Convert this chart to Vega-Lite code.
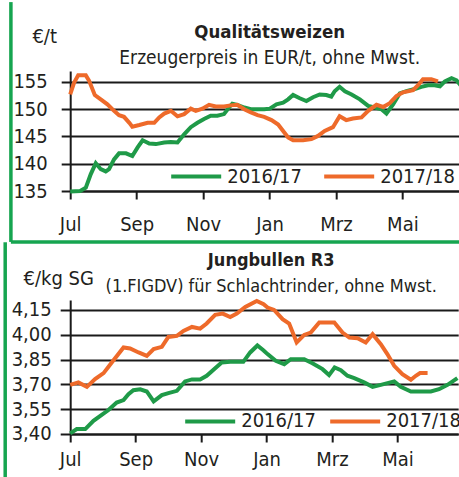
{
  "$schema": "https://vega.github.io/schema/vega-lite/v6.json",
  "padding": {"left": 3.2, "top": 0, "right": 0, "bottom": 0},
  "spacing": -4,
  "resolve": {"legend": {"color": "independent"}, "scale": {"color": "independent"}},
  "datasets": {
    "weizen": [
      {"Saison": "2016/17", "Monat": 0.0, "Preis": 134.9},
      {"Saison": "2016/17", "Monat": 0.3, "Preis": 135.0},
      {"Saison": "2016/17", "Monat": 0.47, "Preis": 135.6},
      {"Saison": "2016/17", "Monat": 0.62, "Preis": 138.1},
      {"Saison": "2016/17", "Monat": 0.77, "Preis": 140.1},
      {"Saison": "2016/17", "Monat": 0.92, "Preis": 139.0},
      {"Saison": "2016/17", "Monat": 1.07, "Preis": 138.6},
      {"Saison": "2016/17", "Monat": 1.17, "Preis": 139.0},
      {"Saison": "2016/17", "Monat": 1.32, "Preis": 140.8},
      {"Saison": "2016/17", "Monat": 1.47, "Preis": 141.9},
      {"Saison": "2016/17", "Monat": 1.68, "Preis": 141.9},
      {"Saison": "2016/17", "Monat": 1.87, "Preis": 141.4},
      {"Saison": "2016/17", "Monat": 2.03, "Preis": 143.0},
      {"Saison": "2016/17", "Monat": 2.18, "Preis": 144.3},
      {"Saison": "2016/17", "Monat": 2.38, "Preis": 143.7},
      {"Saison": "2016/17", "Monat": 2.58, "Preis": 143.6},
      {"Saison": "2016/17", "Monat": 2.83, "Preis": 143.9},
      {"Saison": "2016/17", "Monat": 3.03, "Preis": 144.0},
      {"Saison": "2016/17", "Monat": 3.23, "Preis": 143.9},
      {"Saison": "2016/17", "Monat": 3.43, "Preis": 145.4},
      {"Saison": "2016/17", "Monat": 3.63, "Preis": 146.7},
      {"Saison": "2016/17", "Monat": 3.83, "Preis": 147.5},
      {"Saison": "2016/17", "Monat": 4.03, "Preis": 148.2},
      {"Saison": "2016/17", "Monat": 4.23, "Preis": 148.8},
      {"Saison": "2016/17", "Monat": 4.43, "Preis": 148.8},
      {"Saison": "2016/17", "Monat": 4.63, "Preis": 149.1},
      {"Saison": "2016/17", "Monat": 4.78, "Preis": 150.3},
      {"Saison": "2016/17", "Monat": 4.88, "Preis": 151.0},
      {"Saison": "2016/17", "Monat": 5.03, "Preis": 150.8},
      {"Saison": "2016/17", "Monat": 5.24, "Preis": 150.3},
      {"Saison": "2016/17", "Monat": 5.44, "Preis": 150.0},
      {"Saison": "2016/17", "Monat": 5.84, "Preis": 150.0},
      {"Saison": "2016/17", "Monat": 6.01, "Preis": 150.1},
      {"Saison": "2016/17", "Monat": 6.21, "Preis": 150.9},
      {"Saison": "2016/17", "Monat": 6.41, "Preis": 151.2},
      {"Saison": "2016/17", "Monat": 6.56, "Preis": 151.8},
      {"Saison": "2016/17", "Monat": 6.71, "Preis": 152.6},
      {"Saison": "2016/17", "Monat": 6.91, "Preis": 152.0},
      {"Saison": "2016/17", "Monat": 7.11, "Preis": 151.5},
      {"Saison": "2016/17", "Monat": 7.31, "Preis": 152.2},
      {"Saison": "2016/17", "Monat": 7.51, "Preis": 152.7},
      {"Saison": "2016/17", "Monat": 7.71, "Preis": 152.6},
      {"Saison": "2016/17", "Monat": 7.86, "Preis": 152.3},
      {"Saison": "2016/17", "Monat": 7.96, "Preis": 153.3},
      {"Saison": "2016/17", "Monat": 8.11, "Preis": 154.1},
      {"Saison": "2016/17", "Monat": 8.27, "Preis": 153.3},
      {"Saison": "2016/17", "Monat": 8.47, "Preis": 152.7},
      {"Saison": "2016/17", "Monat": 8.72, "Preis": 151.8},
      {"Saison": "2016/17", "Monat": 8.97, "Preis": 150.6},
      {"Saison": "2016/17", "Monat": 9.17, "Preis": 150.3},
      {"Saison": "2016/17", "Monat": 9.37, "Preis": 150.0},
      {"Saison": "2016/17", "Monat": 9.52, "Preis": 149.2},
      {"Saison": "2016/17", "Monat": 9.72, "Preis": 150.9},
      {"Saison": "2016/17", "Monat": 9.92, "Preis": 152.9},
      {"Saison": "2016/17", "Monat": 10.12, "Preis": 153.3},
      {"Saison": "2016/17", "Monat": 10.37, "Preis": 153.7},
      {"Saison": "2016/17", "Monat": 10.57, "Preis": 154.1},
      {"Saison": "2016/17", "Monat": 10.77, "Preis": 154.4},
      {"Saison": "2016/17", "Monat": 10.97, "Preis": 154.4},
      {"Saison": "2016/17", "Monat": 11.13, "Preis": 154.2},
      {"Saison": "2016/17", "Monat": 11.28, "Preis": 155.1},
      {"Saison": "2016/17", "Monat": 11.48, "Preis": 155.7},
      {"Saison": "2016/17", "Monat": 11.63, "Preis": 155.3},
      {"Saison": "2016/17", "Monat": 11.8, "Preis": 154.0},
      {"Saison": "2017/18", "Monat": 0.0, "Preis": 152.7},
      {"Saison": "2017/18", "Monat": 0.12, "Preis": 154.9},
      {"Saison": "2017/18", "Monat": 0.24, "Preis": 156.2},
      {"Saison": "2017/18", "Monat": 0.47, "Preis": 156.2},
      {"Saison": "2017/18", "Monat": 0.57, "Preis": 155.2},
      {"Saison": "2017/18", "Monat": 0.74, "Preis": 152.6},
      {"Saison": "2017/18", "Monat": 0.92, "Preis": 151.8},
      {"Saison": "2017/18", "Monat": 1.12, "Preis": 150.9},
      {"Saison": "2017/18", "Monat": 1.32, "Preis": 149.7},
      {"Saison": "2017/18", "Monat": 1.47, "Preis": 148.9},
      {"Saison": "2017/18", "Monat": 1.62, "Preis": 148.6},
      {"Saison": "2017/18", "Monat": 1.78, "Preis": 147.5},
      {"Saison": "2017/18", "Monat": 1.87, "Preis": 146.8},
      {"Saison": "2017/18", "Monat": 2.08, "Preis": 147.1},
      {"Saison": "2017/18", "Monat": 2.33, "Preis": 147.5},
      {"Saison": "2017/18", "Monat": 2.53, "Preis": 147.5},
      {"Saison": "2017/18", "Monat": 2.68, "Preis": 148.5},
      {"Saison": "2017/18", "Monat": 2.83, "Preis": 149.2},
      {"Saison": "2017/18", "Monat": 3.03, "Preis": 149.7},
      {"Saison": "2017/18", "Monat": 3.23, "Preis": 148.7},
      {"Saison": "2017/18", "Monat": 3.43, "Preis": 149.1},
      {"Saison": "2017/18", "Monat": 3.63, "Preis": 150.1},
      {"Saison": "2017/18", "Monat": 3.78, "Preis": 149.7},
      {"Saison": "2017/18", "Monat": 3.98, "Preis": 150.1},
      {"Saison": "2017/18", "Monat": 4.18, "Preis": 150.8},
      {"Saison": "2017/18", "Monat": 4.38, "Preis": 150.5},
      {"Saison": "2017/18", "Monat": 4.63, "Preis": 150.5},
      {"Saison": "2017/18", "Monat": 4.83, "Preis": 150.7},
      {"Saison": "2017/18", "Monat": 5.03, "Preis": 150.8},
      {"Saison": "2017/18", "Monat": 5.24, "Preis": 150.0},
      {"Saison": "2017/18", "Monat": 5.44, "Preis": 149.4},
      {"Saison": "2017/18", "Monat": 5.64, "Preis": 148.9},
      {"Saison": "2017/18", "Monat": 5.84, "Preis": 148.6},
      {"Saison": "2017/18", "Monat": 6.06, "Preis": 148.0},
      {"Saison": "2017/18", "Monat": 6.26, "Preis": 147.2},
      {"Saison": "2017/18", "Monat": 6.41, "Preis": 146.0},
      {"Saison": "2017/18", "Monat": 6.56, "Preis": 144.8},
      {"Saison": "2017/18", "Monat": 6.71, "Preis": 144.3},
      {"Saison": "2017/18", "Monat": 7.01, "Preis": 144.3},
      {"Saison": "2017/18", "Monat": 7.26, "Preis": 144.5},
      {"Saison": "2017/18", "Monat": 7.46, "Preis": 145.1},
      {"Saison": "2017/18", "Monat": 7.66, "Preis": 146.0},
      {"Saison": "2017/18", "Monat": 7.91, "Preis": 146.7},
      {"Saison": "2017/18", "Monat": 8.11, "Preis": 148.7},
      {"Saison": "2017/18", "Monat": 8.31, "Preis": 148.0},
      {"Saison": "2017/18", "Monat": 8.51, "Preis": 148.3},
      {"Saison": "2017/18", "Monat": 8.77, "Preis": 148.5},
      {"Saison": "2017/18", "Monat": 8.97, "Preis": 149.7},
      {"Saison": "2017/18", "Monat": 9.22, "Preis": 150.8},
      {"Saison": "2017/18", "Monat": 9.42, "Preis": 150.4},
      {"Saison": "2017/18", "Monat": 9.62, "Preis": 151.1},
      {"Saison": "2017/18", "Monat": 9.82, "Preis": 152.4},
      {"Saison": "2017/18", "Monat": 10.02, "Preis": 153.1},
      {"Saison": "2017/18", "Monat": 10.32, "Preis": 153.5},
      {"Saison": "2017/18", "Monat": 10.47, "Preis": 154.4},
      {"Saison": "2017/18", "Monat": 10.62, "Preis": 155.5},
      {"Saison": "2017/18", "Monat": 10.87, "Preis": 155.5},
      {"Saison": "2017/18", "Monat": 11.07, "Preis": 155.1}
    ],
    "bullen": [
      {"Saison": "2016/17", "Monat": 0.0, "Preis": 3.404},
      {"Saison": "2016/17", "Monat": 0.2, "Preis": 3.43},
      {"Saison": "2016/17", "Monat": 0.46, "Preis": 3.43},
      {"Saison": "2016/17", "Monat": 0.71, "Preis": 3.48},
      {"Saison": "2016/17", "Monat": 0.92, "Preis": 3.51},
      {"Saison": "2016/17", "Monat": 1.17, "Preis": 3.545},
      {"Saison": "2016/17", "Monat": 1.42, "Preis": 3.59},
      {"Saison": "2016/17", "Monat": 1.63, "Preis": 3.605},
      {"Saison": "2016/17", "Monat": 1.78, "Preis": 3.64},
      {"Saison": "2016/17", "Monat": 1.93, "Preis": 3.665},
      {"Saison": "2016/17", "Monat": 2.14, "Preis": 3.67},
      {"Saison": "2016/17", "Monat": 2.34, "Preis": 3.657},
      {"Saison": "2016/17", "Monat": 2.55, "Preis": 3.597},
      {"Saison": "2016/17", "Monat": 2.8, "Preis": 3.635},
      {"Saison": "2016/17", "Monat": 3.0, "Preis": 3.647},
      {"Saison": "2016/17", "Monat": 3.26, "Preis": 3.661},
      {"Saison": "2016/17", "Monat": 3.51, "Preis": 3.718},
      {"Saison": "2016/17", "Monat": 3.72, "Preis": 3.73},
      {"Saison": "2016/17", "Monat": 3.97, "Preis": 3.73},
      {"Saison": "2016/17", "Monat": 4.17, "Preis": 3.752},
      {"Saison": "2016/17", "Monat": 4.43, "Preis": 3.798},
      {"Saison": "2016/17", "Monat": 4.63, "Preis": 3.832},
      {"Saison": "2016/17", "Monat": 4.89, "Preis": 3.836},
      {"Saison": "2016/17", "Monat": 5.29, "Preis": 3.836},
      {"Saison": "2016/17", "Monat": 5.5, "Preis": 3.893},
      {"Saison": "2016/17", "Monat": 5.72, "Preis": 3.935},
      {"Saison": "2016/17", "Monat": 5.91, "Preis": 3.905},
      {"Saison": "2016/17", "Monat": 6.03, "Preis": 3.883},
      {"Saison": "2016/17", "Monat": 6.28, "Preis": 3.842},
      {"Saison": "2016/17", "Monat": 6.54, "Preis": 3.822},
      {"Saison": "2016/17", "Monat": 6.74, "Preis": 3.852},
      {"Saison": "2016/17", "Monat": 7.15, "Preis": 3.852},
      {"Saison": "2016/17", "Monat": 7.4, "Preis": 3.828},
      {"Saison": "2016/17", "Monat": 7.71, "Preis": 3.792},
      {"Saison": "2016/17", "Monat": 7.91, "Preis": 3.756},
      {"Saison": "2016/17", "Monat": 8.08, "Preis": 3.802},
      {"Saison": "2016/17", "Monat": 8.27, "Preis": 3.786},
      {"Saison": "2016/17", "Monat": 8.47, "Preis": 3.752},
      {"Saison": "2016/17", "Monat": 8.68, "Preis": 3.738},
      {"Saison": "2016/17", "Monat": 8.98, "Preis": 3.712},
      {"Saison": "2016/17", "Monat": 9.24, "Preis": 3.685},
      {"Saison": "2016/17", "Monat": 9.49, "Preis": 3.697},
      {"Saison": "2016/17", "Monat": 9.9, "Preis": 3.718},
      {"Saison": "2016/17", "Monat": 10.1, "Preis": 3.685},
      {"Saison": "2016/17", "Monat": 10.41, "Preis": 3.657},
      {"Saison": "2016/17", "Monat": 11.02, "Preis": 3.657},
      {"Saison": "2016/17", "Monat": 11.27, "Preis": 3.671},
      {"Saison": "2016/17", "Monat": 11.53, "Preis": 3.697},
      {"Saison": "2016/17", "Monat": 11.83, "Preis": 3.738},
      {"Saison": "2017/18", "Monat": 0.0, "Preis": 3.697},
      {"Saison": "2017/18", "Monat": 0.25, "Preis": 3.712},
      {"Saison": "2017/18", "Monat": 0.51, "Preis": 3.685},
      {"Saison": "2017/18", "Monat": 0.76, "Preis": 3.732},
      {"Saison": "2017/18", "Monat": 1.02, "Preis": 3.768},
      {"Saison": "2017/18", "Monat": 1.27, "Preis": 3.832},
      {"Saison": "2017/18", "Monat": 1.63, "Preis": 3.923},
      {"Saison": "2017/18", "Monat": 1.83, "Preis": 3.917},
      {"Saison": "2017/18", "Monat": 2.09, "Preis": 3.893},
      {"Saison": "2017/18", "Monat": 2.34, "Preis": 3.872},
      {"Saison": "2017/18", "Monat": 2.55, "Preis": 3.913},
      {"Saison": "2017/18", "Monat": 2.8, "Preis": 3.927},
      {"Saison": "2017/18", "Monat": 3.0, "Preis": 3.987},
      {"Saison": "2017/18", "Monat": 3.26, "Preis": 3.993},
      {"Saison": "2017/18", "Monat": 3.46, "Preis": 4.023},
      {"Saison": "2017/18", "Monat": 3.72, "Preis": 4.047},
      {"Saison": "2017/18", "Monat": 3.97, "Preis": 4.037},
      {"Saison": "2017/18", "Monat": 4.17, "Preis": 4.068},
      {"Saison": "2017/18", "Monat": 4.43, "Preis": 4.12},
      {"Saison": "2017/18", "Monat": 4.66, "Preis": 4.128},
      {"Saison": "2017/18", "Monat": 4.89, "Preis": 4.107},
      {"Saison": "2017/18", "Monat": 5.09, "Preis": 4.128},
      {"Saison": "2017/18", "Monat": 5.35, "Preis": 4.168},
      {"Saison": "2017/18", "Monat": 5.7, "Preis": 4.204},
      {"Saison": "2017/18", "Monat": 5.91, "Preis": 4.184},
      {"Saison": "2017/18", "Monat": 6.03, "Preis": 4.164},
      {"Saison": "2017/18", "Monat": 6.23, "Preis": 4.15},
      {"Saison": "2017/18", "Monat": 6.49, "Preis": 4.094},
      {"Saison": "2017/18", "Monat": 6.69, "Preis": 4.068},
      {"Saison": "2017/18", "Monat": 6.92, "Preis": 3.953},
      {"Saison": "2017/18", "Monat": 7.15, "Preis": 3.999},
      {"Saison": "2017/18", "Monat": 7.35, "Preis": 4.013},
      {"Saison": "2017/18", "Monat": 7.61, "Preis": 4.074},
      {"Saison": "2017/18", "Monat": 8.07, "Preis": 4.074},
      {"Saison": "2017/18", "Monat": 8.32, "Preis": 4.013},
      {"Saison": "2017/18", "Monat": 8.53, "Preis": 3.983},
      {"Saison": "2017/18", "Monat": 8.78, "Preis": 3.979},
      {"Saison": "2017/18", "Monat": 9.03, "Preis": 3.953},
      {"Saison": "2017/18", "Monat": 9.24, "Preis": 4.003},
      {"Saison": "2017/18", "Monat": 9.49, "Preis": 3.943},
      {"Saison": "2017/18", "Monat": 9.69, "Preis": 3.883},
      {"Saison": "2017/18", "Monat": 9.9, "Preis": 3.812},
      {"Saison": "2017/18", "Monat": 10.15, "Preis": 3.762},
      {"Saison": "2017/18", "Monat": 10.41, "Preis": 3.728},
      {"Saison": "2017/18", "Monat": 10.56, "Preis": 3.752},
      {"Saison": "2017/18", "Monat": 10.69, "Preis": 3.768},
      {"Saison": "2017/18", "Monat": 10.92, "Preis": 3.768}
    ]
  },
  "config": {
    "font": "DejaVu Sans Condensed",
    "view": {"stroke": null},
    "axis": {
      "labelFont": "DejaVu Sans Condensed",
      "labelFontSize": 20,
      "labelColor": "#231f20",
      "labelOverlap": false,
      "labelFlush": false,
      "domainColor": "#1a1a1a",
      "domainWidth": 2,
      "tickColor": "#1a1a1a",
      "tickWidth": 2,
      "gridColor": "#1a1a1a",
      "gridWidth": 2,
      "gridOpacity": 1,
      "titleFont": "DejaVu Sans Condensed",
      "titleFontSize": 20,
      "titleFontWeight": "normal",
      "titleColor": "#231f20"
    },
    "title": {
      "font": "DejaVu Sans Condensed",
      "fontSize": 18.5,
      "fontWeight": "bold",
      "color": "#231f20",
      "subtitleFont": "DejaVu Sans Condensed",
      "subtitleFontSize": 19,
      "subtitleColor": "#231f20",
      "anchor": "middle",
      "frame": "group"
    },
    "legend": {
      "title": null,
      "orient": "none",
      "direction": "horizontal",
      "padding": 0,
      "symbolType": "stroke",
      "symbolSize": 2500,
      "symbolStrokeWidth": 4,
      "labelFont": "DejaVu Sans Condensed",
      "labelFontSize": 20,
      "labelColor": "#231f20",
      "labelOffset": 4
    }
  },
  "vconcat": [
    {
      "width": 391,
      "height": 120,
      "title": {"text": "Qualitätsweizen", "subtitle": "Erzeugerpreis in EUR/t, ohne Mwst.", "subtitlePadding": 8, "offset": -68, "dx": 4},
      "layer": [
        {
          "data": {"name": "weizen"},
          "mark": {"type": "line", "strokeWidth": 4},
          "encoding": {
            "x": {
              "field": "Monat", "type": "quantitative",
              "scale": {"domain": [0, 11.77], "nice": false, "zero": false},
              "axis": {"values": [0, 2, 4, 6, 8, 10], "tickCount": 12, "labelExpr": "['Jul','Aug','Sep','Okt','Nov','Dez','Jan','Feb','Mrz','Apr','Mai','Jun'][datum.value]", "title": null, "grid": false, "tickSize": 8, "labelPadding": 15, "labelFlush": false, "labelOverlap": false}
            },
            "y": {
              "field": "Preis", "type": "quantitative",
              "scale": {"domain": [135, 157], "nice": false, "zero": false},
              "axis": {"values": [135, 140, 145, 150, 155], "tickCount": 10, "title": "€/t", "titleAngle": 0, "titleX": -26, "titleY": -29, "titleAlign": "center", "titleBaseline": "alphabetic", "tickSize": 9, "labelPadding": 14, "labelOverlap": false, "labelFlush": false}
            },
            "color": {
              "field": "Saison", "type": "nominal",
              "scale": {"domain": ["2016/17", "2017/18"], "range": ["#1f9a48", "#ee6a2a"]},
              "legend": {"legendX": 99, "legendY": 78.5, "columnPadding": 14}
            }
          }
        },
        {
          "data": {"values": [{}]},
          "mark": {"type": "rule", "color": "#16a550", "strokeWidth": 3.5},
          "encoding": {
            "x": {"datum": -1.785},
            "y": {"datum": 169.633},
            "y2": {"datum": 125.661}
          }
        },
        {
          "data": {"values": [{}]},
          "mark": {"type": "rule", "color": "#16a550", "strokeWidth": 3.5},
          "encoding": {
            "x": {"datum": -1.785},
            "x2": {"datum": 12.5},
            "y": {"datum": 125.661}
          }
        }
      ]
    },
    {
      "width": 388,
      "height": 134,
      "title": {"text": "Jungbullen R3", "subtitle": "(1.FIGDV) für Schlachtrinder, ohne Mwst.", "fontSize": 18, "subtitleFontSize": 18, "subtitlePadding": 8, "offset": -55, "dx": 7},
      "layer": [
        {
          "data": {"name": "bullen"},
          "mark": {"type": "line", "strokeWidth": 4},
          "encoding": {
            "x": {
              "field": "Monat", "type": "quantitative",
              "scale": {"domain": [0, 11.855], "nice": false, "zero": false},
              "axis": {"values": [0, 2, 4, 6, 8, 10], "tickCount": 12, "labelExpr": "['Jul','Aug','Sep','Okt','Nov','Dez','Jan','Feb','Mrz','Apr','Mai','Jun'][datum.value]", "title": null, "grid": false, "tickSize": 8, "labelPadding": 8, "labelFlush": false, "labelOverlap": false}
            },
            "y": {
              "field": "Preis", "type": "quantitative",
              "scale": {"domain": [3.4, 4.21], "nice": false, "zero": false},
              "axis": {"values": [3.4, 3.55, 3.7, 3.85, 4.0, 4.15], "tickCount": 10, "labelExpr": "replace(format(datum.value, '.2f'), '.', ',')", "title": "€/kg SG", "titleAngle": 0, "titleX": -12, "titleY": -15, "titleAlign": "center", "titleBaseline": "alphabetic", "tickSize": 10, "labelPadding": 9, "labelOverlap": false, "labelFlush": false}
            },
            "color": {
              "field": "Saison", "type": "nominal",
              "scale": {"domain": ["2016/17", "2017/18"], "range": ["#1f9a48", "#ee6a2a"]},
              "legend": {"legendX": 113, "legendY": 94.5, "columnPadding": 6}
            }
          }
        },
        {
          "data": {"values": [{}]},
          "mark": {"type": "rule", "color": "#16a550", "strokeWidth": 3.5},
          "encoding": {
            "x": {"datum": -1.986},
            "y": {"datum": 4.559},
            "y2": {"datum": 3.1}
          }
        }
      ]
    }
  ]
}
